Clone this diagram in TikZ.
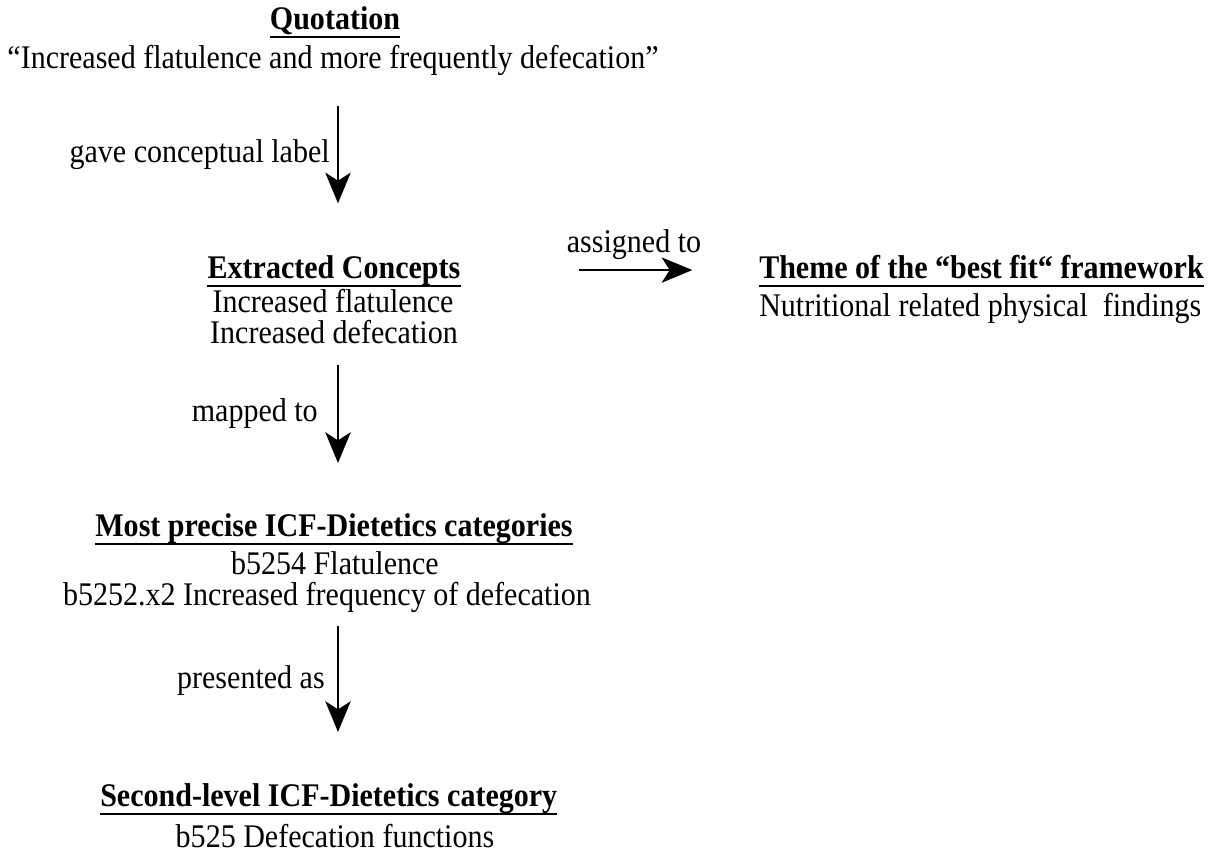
\documentclass[tikz,border=0pt]{standalone}
\usepackage{fontspec}
\setmainfont{Liberation Serif}[FakeStretch=0.91]
\usetikzlibrary{arrows.meta, positioning}

\begin{document}
\begin{tikzpicture}[
    x=0.75pt, y=-0.75pt,
    txt/.style={inner sep=0pt, font=\fontsize{24.75}{28}\selectfont},
    head/.style={txt, font=\fontsize{24.75}{28}\selectfont\bfseries},
    uline/.style={line width=1.6pt},
    arr/.style={-{Stealth[length=23pt, width=19pt, inset=6pt]}, line width=1.5pt},
    lbl/.style={txt, anchor=base east}
  ]
  \useasboundingbox (0,0) rectangle (1208,853);
  \coordinate (axis) at (338,0);
  % quotation
  \node[head, anchor=base] (qhead) at (335,29) {Quotation};
  \node[txt, anchor=base] (qtext) at (333,68) {“Increased flatulence and more frequently defecation”};
  % extracted concepts
  \node[head, anchor=base] (chead) at (334,278) {Extracted Concepts};
  \node[txt, anchor=base] (cflat) at (333,312) {Increased flatulence};
  \node[txt, anchor=base] (cdef) at (334,343) {Increased defecation};
  % theme
  \node[head, anchor=base west] (thead) at (759,278) {Theme of the “best fit“ framework};
  \node[txt, anchor=base west] (ttext) at (759,316) {Nutritional related physical\ \ findings};
  % ICF categories
  \node[head, anchor=base] (phead) at (334,536) {Most precise ICF-Dietetics categories};
  \node[txt, anchor=base] (pflat) at (335,574) {b5254 Flatulence};
  \node[txt, anchor=base] (pfreq) at (327,605) {b5252.x2 Increased frequency of defecation};
  \node[head, anchor=base west] (shead) at (100,806) {Second-level ICF-Dietetics category\hspace{12pt}};
  \node[txt, anchor=base] (sfunc) at (335,847) {b525 Defecation functions};

  \foreach \n in {qhead, chead, thead, phead, shead}
    \draw[uline] ([yshift=-6pt]\n.base west) -- ([yshift=-6pt]\n.base east);

  % connectors
  \draw[arr, shorten <=28.5pt, shorten >=56pt] (qtext.base -| axis) -- (chead.base -| axis);
  \draw[arr, shorten <=16.5pt, shorten >=54.75pt] (cdef.base -| axis) -- (phead.base -| axis);
  \draw[arr, shorten <=15.75pt, shorten >=55.5pt] (pfreq.base -| axis) -- (shead.base -| axis);
  \draw[arr, shorten <=89pt, shorten >=50pt] (chead.east) -- (chead.east -| thead.west);

  \node[lbl] (gave) at (330,162) {gave conceptual label};
  \node[lbl] (mapped) at (318,421) {mapped to};
  \node[lbl] (presented) at (325,688) {presented as};
  \node[txt, anchor=base] (assigned) at (634,252) {assigned to};
\end{tikzpicture}
\end{document}
